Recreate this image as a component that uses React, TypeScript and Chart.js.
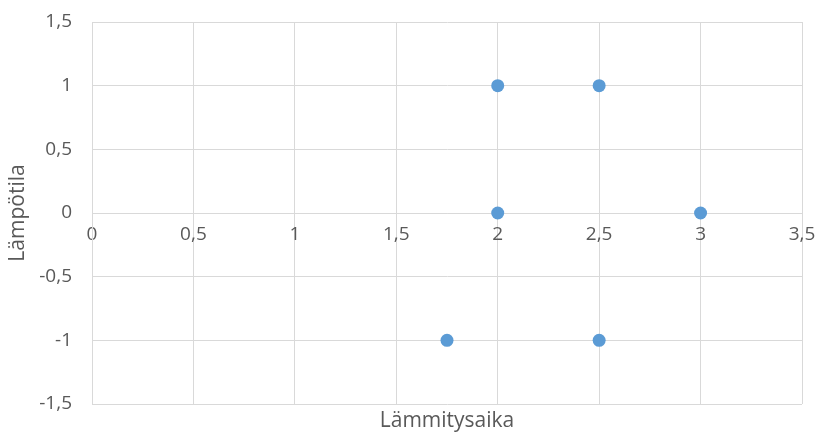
import React, { useEffect, useRef } from "react";
import { Chart, registerables } from "chart.js";

Chart.register(...registerables);

const xValues = [2, 2.5, 2, 3, 1.75, 2.5];
const yValues = [1, 1, 0, 0, -1, -1];
const xTitle = "Lämmitysaika";
const yTitle = "Lämpötila";

const FONT = "'Open Sans', 'Liberation Sans', sans-serif";
const fmt = (v: number) => String(v).replace(".", ",");

const titlesPlugin = {
  id: "axisTitles",
  afterDraw(chart: any) {
    const { ctx, chartArea } = chart;
    ctx.save();
    ctx.fillStyle = "#595959";
    ctx.font = `21px ${FONT}`;
    ctx.textAlign = "center";
    ctx.textBaseline = "middle";
    ctx.fillText(xTitle, (chartArea.left + chartArea.right) / 2, 421);
    ctx.translate(18, (chartArea.top + chartArea.bottom) / 2);
    ctx.rotate(-Math.PI / 2);
    ctx.fillText(yTitle, 0, 0);
    ctx.restore();
  },
};

export default function App() {
  const ref = useRef<HTMLCanvasElement | null>(null);
  useEffect(() => {
    if (!ref.current) return;
    const chart = new Chart(ref.current, {
      type: "scatter",
      data: {
        datasets: [
          {
            data: xValues.map((x, i) => ({ x, y: yValues[i] })),
            backgroundColor: "#5b9bd5",
            borderColor: "#5b9bd5",
            pointRadius: 6.5,
            pointHoverRadius: 6.5,
            borderWidth: 0,
          },
        ],
      },
      plugins: [titlesPlugin],
      options: {
        animation: false,
        responsive: false,
        maintainAspectRatio: false,
        layout: { padding: { top: 22, right: 14, bottom: 32, left: 0 } },
        plugins: { legend: { display: false }, tooltip: { enabled: false }, title: { display: false } },
        scales: {
          x: {
            type: "linear",
            position: { y: 0 } as any,
            min: 0,
            max: 3.5,
            afterFit: (s: any) => {
              s.paddingLeft = 0;
              s.paddingRight = 0;
              s.paddingTop = 0;
              s.paddingBottom = 0;
            },
            ticks: {
              stepSize: 0.5,
              padding: 10,
              color: "#595959",
              font: { family: FONT, size: 19 },
              callback: (v: any) => fmt(Number(v)),
            },
            grid: { color: "#d9d9d9", lineWidth: 1, drawTicks: false },
            border: { color: "#d9d9d9", width: 1 },
          },
          y: {
            type: "linear",
            position: "left",
            min: -1.5,
            max: 1.5,
            afterFit: (s: any) => {
              s.width = 92;
              s.paddingTop = 0;
              s.paddingBottom = 0;
              s.paddingLeft = 0;
              s.paddingRight = 0;
            },
            ticks: {
              stepSize: 0.5,
              padding: 20,
              color: "#595959",
              font: { family: FONT, size: 19 },
              callback: (v: any) => fmt(Number(v)),
            },
            grid: { color: "#d9d9d9", lineWidth: 1, drawTicks: false },
            border: { color: "#d9d9d9", width: 1 },
          },
        },
      },
    });
    return () => chart.destroy();
  }, []);
  return (
    <div style={{ position: "fixed", left: 0, top: 0, width: 816, height: 436, background: "#fff" }}>
      <canvas ref={ref} width={816} height={436} style={{ width: 816, height: 436 }} />
    </div>
  );
}
